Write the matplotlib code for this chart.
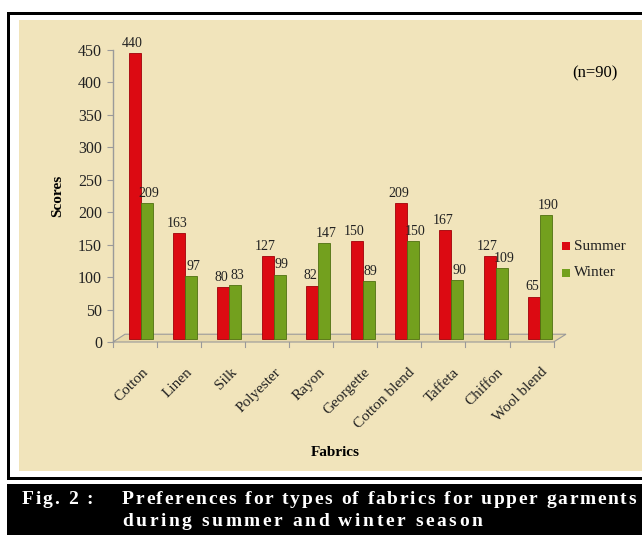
import numpy as np
import matplotlib.pyplot as plt
from matplotlib.patches import Rectangle, Polygon

fabrics = ["Cotton", "Linen", "Silk", "Polyester", "Rayon", "Georgette",
           "Cotton blend", "Taffeta", "Chiffon", "Wool blend"]
summer = [440, 163, 80, 127, 82, 150, 209, 167, 127, 65]
winter = [209, 97, 83, 99, 147, 89, 150, 90, 109, 190]
yticks = [0, 50, 100, 150, 200, 250, 300, 350, 400, 450]

SERIF = ["Liberation Serif", "DejaVu Serif"]
RED = "#dc0a12"
GREEN = "#73a01e"
BG = "#f1e4bb"
W, H = 642, 535

fig = plt.figure(figsize=(W / 100, H / 100), dpi=100)
fig.patch.set_facecolor("white")


def px(x0, y0, w, h):
    # pixel box (top-left origin) -> figure fraction rect
    return [x0 / W, 1 - (y0 + h) / H, w / W, h / H]


def fig_rect(x0, y0, w, h, color):
    fig.patches.append(Rectangle((x0 / W, 1 - (y0 + h) / H), w / W, h / H,
                                 transform=fig.transFigure, facecolor=color,
                                 edgecolor="none", zorder=-5))


# outer black frame, beige panel, caption band
fig_rect(7, 12, 640, 468, "black")
fig_rect(10, 15, 640, 462, "white")
fig_rect(19, 20, 640, 451, BG)
fig_rect(7, 484, 640, 51, "black")

ax = fig.add_axes(px(113, 50, 453, 292))
ax.set_zorder(2)
ax.set_facecolor("none")
x = np.arange(len(fabrics))
bw = 0.27

# 3D-ish floor
floor = Polygon([(-0.62, 0), (9.3, 0), (9.58, 12), (-0.35, 12)], closed=True,
                facecolor="#e8d9ab", edgecolor="#9a9a9a", lw=0.8, zorder=1,
                clip_on=False)
ax.add_patch(floor)
for i in range(11):
    xt = -0.62 + i * (9.92 / 10)
    ax.plot([xt, xt], [0, -8], color="#9a9a9a", lw=0.8, clip_on=False, zorder=1)

ax.bar(x - bw / 2, summer, bw, bottom=5, color=RED, edgecolor="#a00008",
       lw=0.6, zorder=3)
ax.bar(x + bw / 2, winter, bw, bottom=5, color=GREEN, edgecolor="#4f7010",
       lw=0.6, zorder=3)

for xi, s, w_ in zip(x, summer, winter):
    ax.text(xi - bw / 2 - 0.05, s + 10, str(s), ha="center", va="bottom",
            fontsize=10, family=SERIF, color="#222222", zorder=4, clip_on=False)
    ax.text(xi + bw / 2 + 0.05, w_ + 10, str(w_), ha="center", va="bottom",
            fontsize=10, family=SERIF, color="#222222", zorder=4, clip_on=False)

ax.set_xlim(-0.62, 9.58)
ax.set_ylim(0, 450)
ax.set_yticks(yticks)
ax.set_yticklabels([str(t) for t in yticks], family=SERIF, fontsize=11.5,
                   color="#222222")
ax.tick_params(axis="y", length=4, color="#9a9a9a", pad=4)
ax.set_xticks(x + 0.02)
ax.set_xticklabels(fabrics, rotation=45, ha="right", rotation_mode="anchor",
                   family=SERIF, fontsize=11, color="#222222")
ax.tick_params(axis="x", length=0, pad=17)
for side in ["top", "right", "bottom"]:
    ax.spines[side].set_visible(False)
ax.spines["left"].set_color("#9a9a9a")
ax.spines["left"].set_linewidth(1.0)

ax.set_ylabel("Scores", family=SERIF, fontsize=11, fontweight="bold",
              labelpad=10)
fig.text(335 / W, 1 - 452 / H, "Fabrics", family=SERIF, fontsize=11,
         fontweight="bold", ha="center", va="center")
fig.text(595 / W, 1 - 73 / H, "(n=90)", family=SERIF, fontsize=12,
         ha="center", va="center")

# legend
for yy, col, lab in [(246, RED, "Summer"), (273, GREEN, "Winter")]:
    fig.patches.append(Rectangle((562 / W, 1 - (yy + 4) / H), 8 / W, 8 / H,
                                 transform=fig.transFigure, facecolor=col,
                                 edgecolor="none"))
    fig.text(574 / W, 1 - yy / H, lab, family=SERIF, fontsize=11,
             ha="left", va="center", color="#222222")

# caption with letter spacing
renderer = fig.canvas.get_renderer()


def spaced(text, x0, y0, spacing, size=14):
    xp = x0
    for ch in text:
        if ch == " ":
            xp += size * 0.5
            continue
        t = fig.text(xp / W, 1 - y0 / H, ch, family=SERIF, fontsize=size,
                     fontweight="bold", color="white", ha="left", va="center")
        bb = t.get_window_extent(renderer)
        xp += bb.width + spacing


spaced("Fig. 2 :", 22, 499, 1.8)
spaced("Preferences for types of fabrics for upper garments", 122, 499, 1.7)
spaced("during summer and winter season", 122, 522, 2.6)

fig.savefig("out.png", dpi=100, facecolor=fig.get_facecolor())
